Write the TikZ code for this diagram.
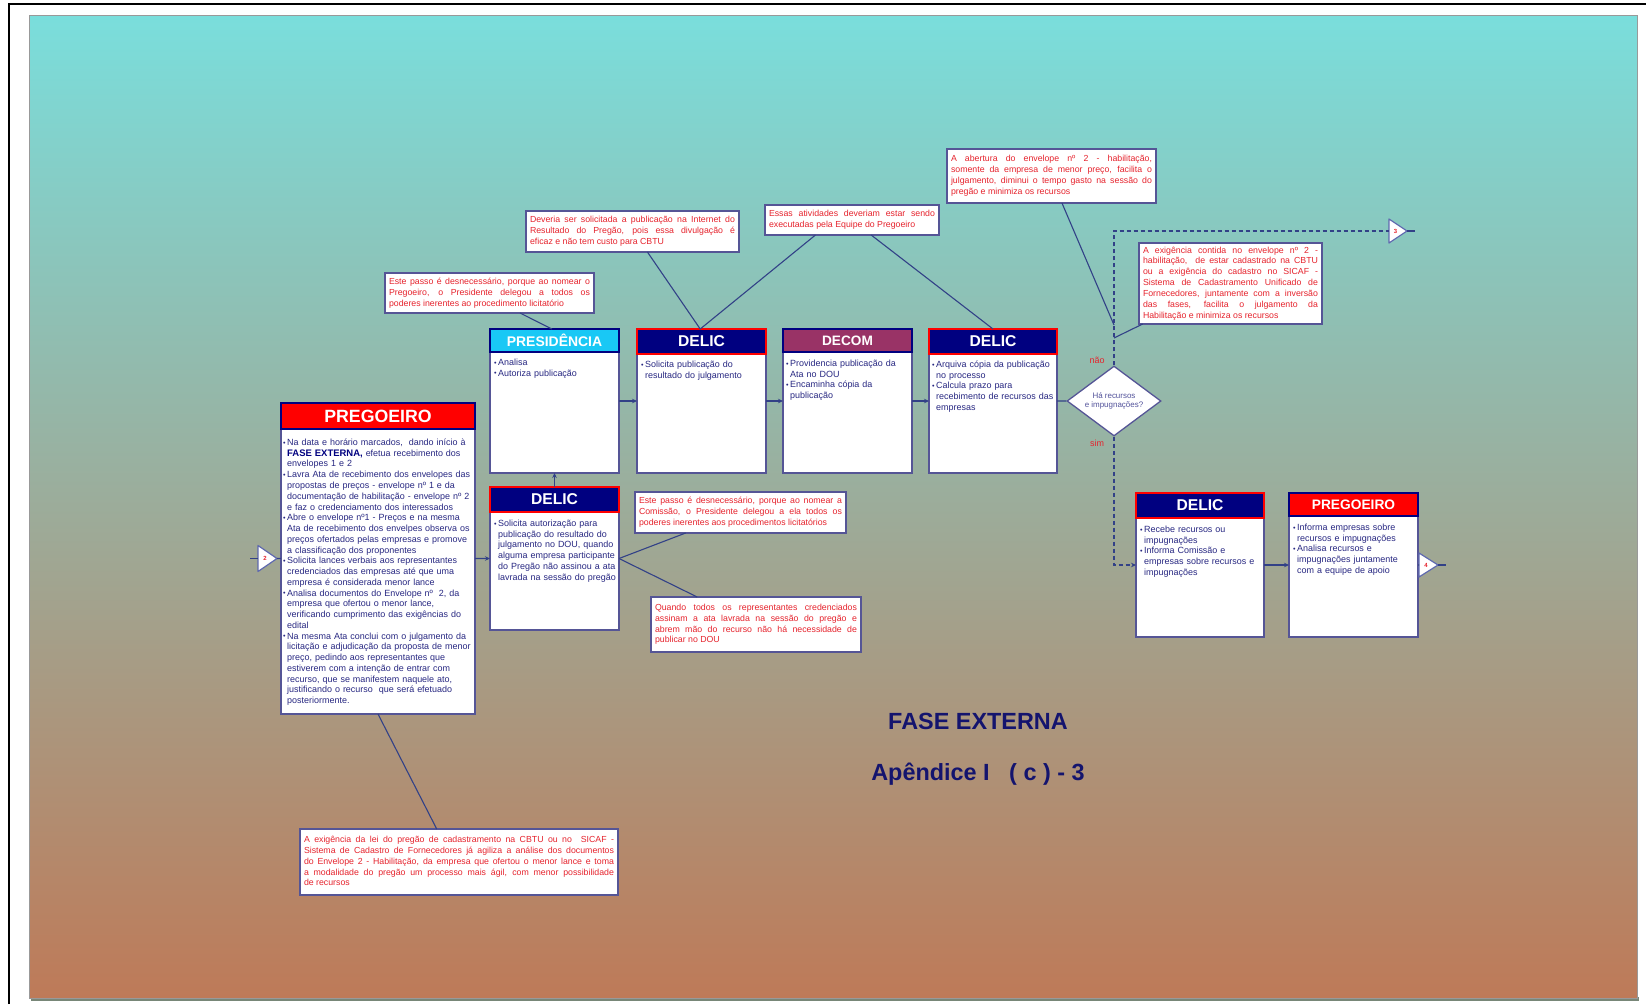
\documentclass[tikz,border=0pt]{standalone}
\usepackage{fontspec}
\setmainfont{Liberation Sans}
\usetikzlibrary{shapes.geometric,arrows.meta,calc}
\definecolor{navytx}{RGB}{40,40,130}
\definecolor{hdnavy}{RGB}{0,0,128}
\definecolor{hdred}{RGB}{255,0,0}
\definecolor{hdcyan}{RGB}{25,200,245}
\definecolor{hdmaroon}{RGB}{153,51,102}
\definecolor{boxcol}{RGB}{85,85,150}
\definecolor{lncol}{RGB}{50,65,135}
\definecolor{annred}{RGB}{230,35,45}
\definecolor{bgtop}{RGB}{122,222,220}
\definecolor{bgmid}{RGB}{150,176,160}
\definecolor{bgbot}{RGB}{190,122,88}
\definecolor{titcol}{RGB}{20,20,110}
\definecolor{tricol}{RGB}{95,105,175}
\definecolor{shadcol}{RGB}{120,135,120}
\newcommand{\mybody}{\fontsize{9}{10.8}\selectfont}
\newcommand{\myann}{\fontsize{8.8}{10.9}\selectfont\tolerance=10000\hyphenpenalty=10000\exhyphenpenalty=10000}
\newcommand{\bpt}{\par\noindent\hangindent=4bp\hangafter=1\makebox[4bp][l]{\strut\raisebox{0.4bp}{\scalebox{0.8}{•}}}}
\begin{document}
\begin{tikzpicture}[x=1bp,y=-1bp,
  bbody/.style={draw=boxcol,fill=white,line width=1.3bp,anchor=north west,outer sep=0,inner sep=0},
  hdr/.style={anchor=north west,outer sep=0,inner sep=0,text=white,line width=1.5bp},
  hred/.style={hdr,fill=hdred,draw=hdnavy},
  hnavy/.style={hdr,fill=hdnavy,draw=hdred},
  hcyan/.style={hdr,fill=hdcyan,draw=hdnavy},
  hmaroon/.style={hdr,fill=hdmaroon,draw=hdnavy},
  btext/.style={anchor=north west,inner sep=0,align=left,font=\mybody,text=navytx},
  annot/.style={draw=boxcol,fill=white,line width=1.2bp,anchor=north west,outer sep=0,inner xsep=4bp,inner ysep=0,align=justify,font=\myann,text=annred},
  conn/.style={draw=lncol,line width=1.1bp},
  arr/.style={conn,-{Stealth[length=5bp,width=4.5bp]}},
  dashline/.style={conn,dash pattern=on 4bp off 3bp},
  trinode/.style={inner sep=0,outer sep=0},
  tridraw/.style={draw=tricol,fill=white,line width=1.2bp,line join=round},
  trinum/.style={inner sep=0,text=annred,font=\fontsize{6}{6}\selectfont\bfseries},
  redlbl/.style={inner sep=0,text=annred,font=\fontsize{9}{9}\selectfont},
  titstyle/.style={inner sep=0,text=titcol,font=\fontsize{23.5}{28}\selectfont\bfseries}
]
\useasboundingbox (0,0) rectangle (1646,1004);
\fill[white] (0,0) rectangle (1646,1004);
\draw[black,line width=1.5bp] (9,1004) -- (9,4) -- (1646,4);
\fill[shadcol] (31,997) rectangle (1639,1001);
\shade[top color=bgtop,middle color=bgmid,bottom color=bgbot] (29,15) rectangle (1637,998);
\draw[gray!80,line width=0.8bp] (29,15) rectangle (1637,998);

% ---------- boxes ----------
\node[bbody,minimum width=194bp,minimum height=311bp] (preg) at (281,403) {};
\node[hred,minimum width=194bp,minimum height=26bp,font=\fontsize{17.8}{17.8}\selectfont\bfseries] (pregh) at (281,403) {PREGOEIRO};
\node[btext,text width=210bp] (pregt) at (283,434.5) {\bpt Na data e horário marcados,\ \ dando início à\newline {\bfseries\color{hdnavy}\fontsize{9.5}{10.8}\selectfont FASE EXTERNA,} efetua recebimento dos\newline envelopes 1 e 2
\bpt Lavra Ata de recebimento dos envelopes das\newline propostas de preços - envelope nº 1 e da\newline documentação de habilitação - envelope nº 2\newline e faz o credenciamento dos interessados
\bpt Abre o envelope nº1 - Preços e na mesma\newline Ata de recebimento dos envelpes observa os\newline preços ofertados pelas empresas e promove\newline a classificação dos proponentes
\bpt Solicita lances verbais aos representantes\newline credenciados das empresas até que uma\newline empresa é considerada menor lance
\bpt Analisa documentos do Envelope nº\ \ 2, da\newline empresa que ofertou o menor lance,\newline verificando cumprimento das exigências do\newline edital
\bpt Na mesma Ata conclui com o julgamento da\newline licitação e adjudicação da proposta de menor\newline preço, pedindo aos representantes que\newline estiverem com a intenção de entrar com\newline recurso, que se manifestem naquele ato,\newline justificando o recurso\ \ que será efetuado\newline posteriormente.\par};

\node[bbody,minimum width=129bp,minimum height=144bp] (pres) at (490,329) {};
\node[hcyan,minimum width=129bp,minimum height=23bp,font=\fontsize{14}{14}\selectfont\bfseries] (presh) at (490,329) {PRESIDÊNCIA};
\node[btext,text width=150bp] (prest) at (494,354.5) {\bpt Analisa \bpt Autoriza publicação\par};

\node[bbody,minimum width=129bp,minimum height=144bp] (del1) at (637,329) {};
\node[hnavy,minimum width=129bp,minimum height=25bp,font=\fontsize{15.7}{15.7}\selectfont\bfseries] (del1h) at (637,329) {DELIC};
\node[btext,text width=150bp] (del1t) at (641,356.5) {\bpt Solicita publicação do\newline resultado do julgamento\par};

\node[bbody,minimum width=129bp,minimum height=144bp] (decom) at (783,329) {};
\node[hmaroon,minimum width=129bp,minimum height=23bp,font=\fontsize{13.7}{13.7}\selectfont\bfseries] (decomh) at (783,329) {DECOM};
\node[btext,text width=150bp] (decomt) at (786,355.5) {\bpt Providencia publicação da\newline Ata no DOU \bpt Encaminha cópia da\newline publicação\par};

\node[bbody,minimum width=128bp,minimum height=144bp] (del2) at (929,329) {};
\node[hnavy,minimum width=128bp,minimum height=25bp,font=\fontsize{15.7}{15.7}\selectfont\bfseries] (del2h) at (929,329) {DELIC};
\node[btext,text width=150bp] (del2t) at (932,356.5) {\bpt Arquiva cópia da publicação\newline no processo \bpt Calcula prazo para\newline recebimento de recursos das\newline empresas\par};

\node[bbody,minimum width=129bp,minimum height=143bp] (dlow) at (490,487) {};
\node[hnavy,minimum width=129bp,minimum height=25bp,font=\fontsize{15.7}{15.7}\selectfont\bfseries] (dlowh) at (490,487) {DELIC};
\node[btext,text width=150bp] (dlowt) at (494,515.5) {\bpt Solicita autorização para\newline publicação do resultado do\newline julgamento no DOU, quando\newline alguma empresa participante\newline do Pregão não assinou a ata\newline lavrada na sessão do pregão\par};

\node[bbody,minimum width=128bp,minimum height=144bp] (del3) at (1136,493) {};
\node[hnavy,minimum width=128bp,minimum height=25bp,font=\fontsize{15.7}{15.7}\selectfont\bfseries] (del3h) at (1136,493) {DELIC};
\node[btext,text width=150bp] (del3t) at (1140,521.5) {\bpt Recebe recursos ou\newline impugnações \bpt Informa Comissão e\newline empresas sobre recursos e\newline impugnações\par};

\node[bbody,minimum width=129bp,minimum height=144bp] (preg2) at (1289,493) {};
\node[hred,minimum width=129bp,minimum height=23bp,font=\fontsize{13.8}{13.8}\selectfont\bfseries] (preg2h) at (1289,493) {PREGOEIRO};
\node[btext,text width=150bp] (preg2t) at (1293,519.5) {\bpt Informa empresas sobre\newline recursos e impugnações \bpt Analisa recursos e\newline impugnações juntamente\newline com a equipe de apoio\par};

% ---------- decision ----------
\node[diamond,draw=boxcol,fill=white,line width=1.3bp,minimum width=94bp,minimum height=70bp,inner sep=0,aspect=1.34,align=center,font=\fontsize{8}{9.5}\selectfont,text=navytx!80] (dia) at (1114,401) {Há recursos\\e impugnações?};
\node[redlbl] (nao) at (1097,360) {não};
\node[redlbl] (sim) at (1097,443) {sim};

% ---------- off-page connectors ----------
\node[trinode,minimum width=19bp,minimum height=26bp] (t2) at (267.5,558.5) {};
\draw[tridraw] (t2.north west) -- (t2.east) -- (t2.south west) -- cycle;
\node[trinum] (t2n) at (265,558.5) {2};
\node[trinode,minimum width=18bp,minimum height=24bp] (t3) at (1398,231) {};
\draw[tridraw] (t3.north west) -- (t3.east) -- (t3.south west) -- cycle;
\node[trinum] (t3n) at (1395.5,231) {3};
\node[trinode,minimum width=19bp,minimum height=24bp] (t4) at (1428.5,565) {};
\draw[tridraw] (t4.north west) -- (t4.east) -- (t4.south west) -- cycle;
\node[trinum] (t4n) at (1426,565) {4};
\coordinate (t2w) at (250,558.5);
\coordinate (t3e) at (1415,231);
\coordinate (t4e) at (1446,565);

% ---------- annotations ----------
\node[annot,text width=201bp,minimum height=40bp] (a1) at (385,273) {\strut Este passo é desnecessário, porque ao nomear o\linebreak Pregoeiro, o Presidente delegou a todos os\linebreak poderes inerentes ao procedimento licitatório\strut};
\node[annot,text width=205bp,minimum height=41bp] (a2) at (526,211) {\strut Deveria ser solicitada a publicação na Internet do\linebreak Resultado do Pregão, pois essa divulgação é\linebreak eficaz e não tem custo para CBTU\strut};
\node[annot,text width=166bp,minimum height=30bp] (a3) at (765,205) {\strut Essas atividades deveriam estar sendo\linebreak executadas pela Equipe do Pregoeiro\strut};
\node[annot,text width=201bp,minimum height=54bp] (a4) at (947,149) {\strut A abertura do envelope nº 2 - habilitação,\linebreak somente da empresa de menor preço, facilita o\linebreak julgamento, diminui o tempo gasto na sessão do\linebreak pregão e minimiza os recursos\strut};
\node[annot,text width=175bp,minimum height=81bp] (a5) at (1139,243) {\strut A exigência contida no envelope nº 2 -\linebreak habilitação,\ \ de estar cadastrado na CBTU\linebreak ou a exigência do cadastro no SICAF -\linebreak Sistema de Cadastramento Unificado de\linebreak Fornecedores, juntamente com a inversão\linebreak das fases, facilita o julgamento da\linebreak Habilitação e minimiza os recursos\strut};
\node[annot,text width=203bp,minimum height=41bp] (a6) at (635,492) {\strut Este passo é desnecessário, porque ao nomear a\linebreak Comissão, o Presidente delegou a ela todos os\linebreak poderes inerentes aos procedimentos licitatórios\strut};
\node[annot,text width=202bp,minimum height=55bp] (a7) at (651,597) {\strut Quando todos os representantes credenciados\linebreak assinam a ata lavrada na sessão do pregão e\linebreak abrem mão do recurso não há necessidade de\linebreak publicar no DOU\strut};
\node[annot,text width=310bp,minimum height=66bp] (a8) at (300,829) {\strut A exigência da lei do pregão de cadastramento na CBTU ou no\ \ SICAF -\linebreak Sistema de Cadastro de Fornecedores já agiliza a análise dos documentos\linebreak do Envelope 2 - Habilitação, da empresa que ofertou o menor lance e toma\linebreak a modalidade do pregão um processo mais ágil, com menor possibilidade\linebreak de recursos\strut};

% ---------- title ----------
\node[titstyle] (tit1) at (978,721) {FASE EXTERNA};
\node[titstyle] (tit2) at (978,774) {Apêndice I\ \ \ ( c ) - 3};

% ---------- connectors ----------
\draw[conn] (t2w) -- (t2.west);
\draw[conn] (t2) -- (preg);
\draw[arr] (preg) -- (dlow);
\draw[arr] (dlow) -- (pres);
\draw[arr] (pres) -- (del1);
\draw[arr] (del1) -- (decom);
\draw[arr] (decom) -- (del2);
\draw[conn] (del2) -- (dia);
\draw[dashline] (dia.north) |- (t3);
\draw[conn] (t3.east) -- (t3e);
\draw[dashline,-{Stealth[length=5bp,width=4.5bp]}] (dia.south) |- (del3);
\draw[arr] (del3) -- (preg2);
\draw[conn] (preg2) -- (t4);
\draw[conn] (t4.east) -- (t4e);
\coordinate (p1) at (1114,325);
\coordinate (p2) at (1114,338);

% annotation leaders
\draw[conn] ($(a1.south west)!0.646!(a1.south east)$) -- ($(pres.north west)!0.48!(pres.north east)$);
\draw[conn] ($(a2.south west)!0.57!(a2.south east)$) -- ($(del1.north west)!0.49!(del1.north east)$);
\draw[conn] ($(a3.south west)!0.29!(a3.south east)$) -- ($(del1.north west)!0.49!(del1.north east)$);
\draw[conn] ($(a3.south west)!0.61!(a3.south east)$) -- (del2.north);
\draw[conn] ($(a4.south west)!0.55!(a4.south east)$) -- (p1);
\draw[conn] ($(a5.south west)!0.02!(a5.south east)$) -- (p2);
\draw[conn] ($(a6.south west)!0.24!(a6.south east)$) -- (dlow.east);
\draw[conn] ($(a7.north west)!0.22!(a7.north east)$) -- (dlow.east);
\draw[conn] ($(a8.north west)!0.43!(a8.north east)$) -- (preg.south);
\end{tikzpicture}
\end{document}
